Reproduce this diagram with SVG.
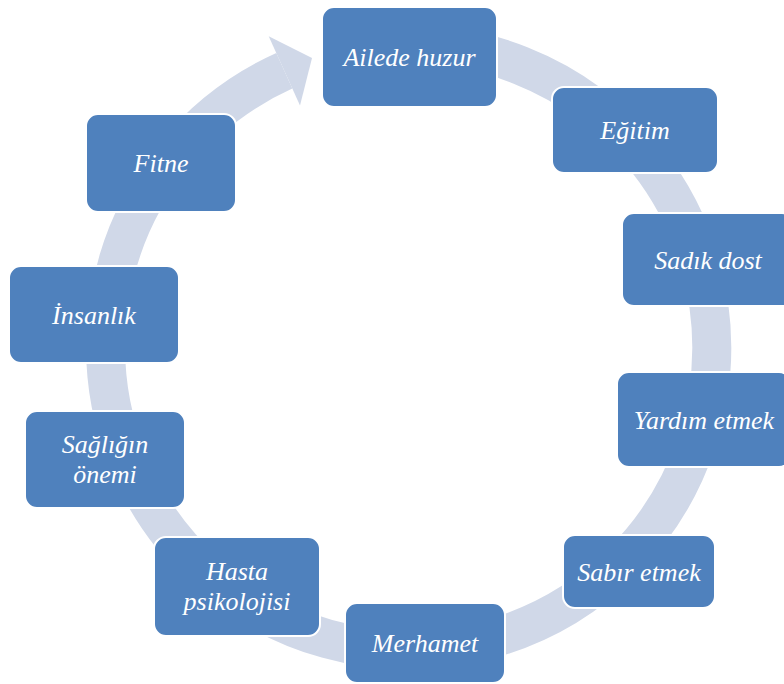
<svg xmlns="http://www.w3.org/2000/svg" width="784" height="684" viewBox="0 0 784 684">
<style>
.box{fill:#4F81BD;stroke:#FFFFFF;stroke-width:2}
.t{font-family:"Liberation Serif","Times New Roman",serif;font-style:italic;font-size:26px;fill:#FFFFFF;text-anchor:middle}
.band{fill:none;stroke:#D0D8E8;stroke-width:39}
</style>
<rect width="784" height="684" fill="#FFFFFF"/>
<g id="connectors">
<path class="band" d="M 382.6 45.2 A 303 303 0 1 1 284.3 70.8"/>
<polygon points="268.7,36.2 312,58 300,105.5" fill="#D0D8E8"/>
</g>
<g id="n1"><rect class="box" x="322" y="7" width="175" height="100" rx="12"/><text class="t" x="409.5" y="66">Ailede huzur</text></g>
<g id="n2"><rect class="box" x="552" y="87" width="166" height="86" rx="12"/><text class="t" x="635" y="139">Eğitim</text></g>
<g id="n3"><rect class="box" x="622" y="213" width="172" height="93" rx="12"/><text class="t" x="708" y="269">Sadık dost</text></g>
<g id="n4"><rect class="box" x="617" y="372" width="174" height="95" rx="12"/><text class="t" x="704" y="429">Yardım etmek</text></g>
<g id="n5"><rect class="box" x="563" y="535" width="152" height="73" rx="12"/><text class="t" x="639" y="581">Sabır etmek</text></g>
<g id="n6"><rect class="box" x="345" y="603" width="160" height="80" rx="12"/><text class="t" x="425" y="652">Merhamet</text></g>
<g id="n7"><rect class="box" x="154" y="537" width="166" height="99" rx="12"/><text class="t" x="237" y="580">Hasta</text><text class="t" x="237" y="610">psikolojisi</text></g>
<g id="n8"><rect class="box" x="25" y="411" width="160" height="97" rx="12"/><text class="t" x="105" y="453">Sağlığın</text><text class="t" x="105" y="483">önemi</text></g>
<g id="n9"><rect class="box" x="9" y="266" width="170" height="97" rx="12"/><text class="t" x="94" y="324">İnsanlık</text></g>
<g id="n10"><rect class="box" x="86" y="114" width="150" height="98" rx="12"/><text class="t" x="161" y="172">Fitne</text></g>
</svg>
